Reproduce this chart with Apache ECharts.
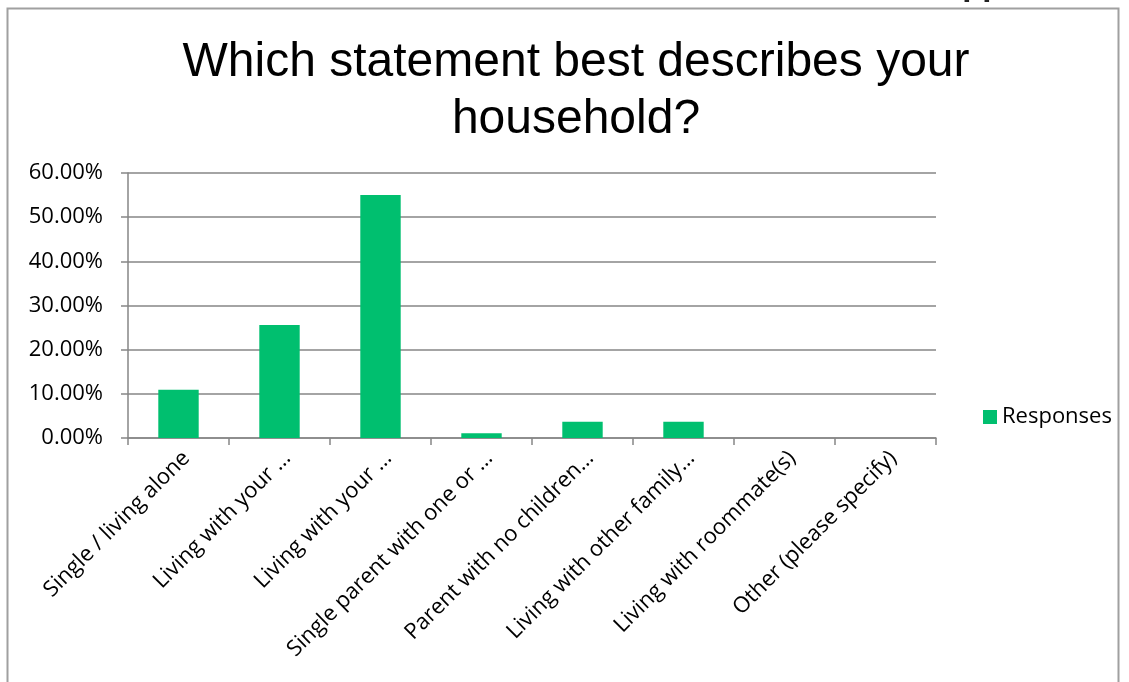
<!DOCTYPE html>
<html>
<head>
<meta charset="utf-8">
<script src="https://cdn.jsdelivr.net/npm/echarts@6/dist/echarts.min.js"></script>
<style>
html,body{margin:0;padding:0;background:#fff;}
#chart{width:1129px;height:682px;}
</style>
</head>
<body>
<div id="chart"></div>
<script>
var titleText = 'Which statement best describes your\nhousehold?';
var categories = [
  'Single / living alone',
  'Living with your …',
  'Living with your …',
  'Single parent with one or …',
  'Parent with no children…',
  'Living with other family…',
  'Living with roommate(s)',
  'Other (please specify)'
];
var responses = [10.9, 25.6, 55.0, 1.1, 3.7, 3.7, 0, 0];
var yTicks = [0, 10, 20, 30, 40, 50, 60];
var seriesName = 'Responses';

var chart = echarts.init(document.getElementById('chart'));
var axisGray = '#868686';
var labelFont = '"Open Sans", "Noto Sans", sans-serif';
chart.setOption({
  animation: false,
  backgroundColor: '#fff',
  title: {
    text: titleText,
    left: 571,
    top: 29,
    textAlign: 'center',
    textStyle: {
      fontFamily: '"Liberation Sans", Arial, sans-serif',
      fontSize: 48,
      fontWeight: 'normal',
      color: '#000',
      lineHeight: 57
    }
  },
  graphic: [
    {
      type: 'rect',
      shape: {x: 7.5, y: 8.5, width: 1111, height: 700},
      style: {fill: 'none', stroke: '#a0a0a0', lineWidth: 2},
      silent: true
    },
    {
      type: 'text',
      left: 920,
      top: -31,
      style: {
        text: 'Support',
        font: 'bold 33px "Liberation Sans", Arial, sans-serif',
        fill: '#222'
      },
      silent: true
    }
  ],
  legend: {
    data: [seriesName],
    left: 978,
    top: 401,
    itemWidth: 14,
    itemHeight: 14,
    itemGap: 10,
    icon: 'rect',
    textStyle: {
      fontFamily: labelFont,
      fontSize: 22,
      color: '#000',
      padding: [0, 0, 0, 0]
    }
  },
  grid: {
    left: 128,
    right: 193,
    top: 173,
    bottom: 244,
    containLabel: false
  },
  xAxis: {
    type: 'category',
    data: categories,
    boundaryGap: true,
    axisLine: {show: true, lineStyle: {color: axisGray, width: 1.5}},
    axisTick: {show: true, length: 7, alignWithLabel: false, lineStyle: {color: axisGray, width: 1.5}},
    axisLabel: {
      interval: 0,
      rotate: 45,
      margin: 9,
      align: 'right',
      verticalAlign: 'top',
      fontFamily: labelFont,
      fontSize: 22,
      color: '#000'
    },
    splitLine: {show: false}
  },
  yAxis: {
    type: 'value',
    min: yTicks[0],
    max: yTicks[yTicks.length - 1],
    interval: 10,
    axisLine: {show: true, lineStyle: {color: axisGray, width: 1.5}},
    axisTick: {show: true, length: 7, lineStyle: {color: axisGray, width: 1.5}},
    axisLabel: {
      margin: 25,
      fontFamily: labelFont,
      fontSize: 22,
      color: '#000',
      formatter: function (v) { return v.toFixed(2) + '%'; }
    },
    splitLine: {show: true, lineStyle: {color: axisGray, width: 1.5}}
  },
  series: [{
    name: seriesName,
    type: 'bar',
    data: responses,
    barWidth: '40%',
    itemStyle: {color: '#00BF6F'}
  }]
});
</script>
</body>
</html>
